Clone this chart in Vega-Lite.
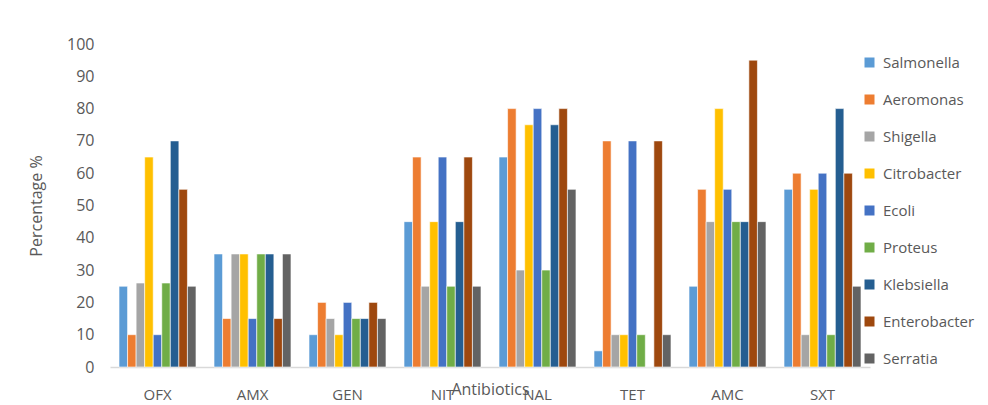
{
  "$schema": "https://vega.github.io/schema/vega-lite/v6.json",
  "autosize": "none",
  "width": 760,
  "height": 323,
  "padding": {"left": 110, "top": 44, "right": 118, "bottom": 38},
  "background": "white",
  "config": {
    "view": {"stroke": null},
    "font": "Open Sans",
    "axis": {"labelColor": "#595959", "titleColor": "#595959", "labelFont": "Open Sans", "titleFont": "Open Sans", "titleFontWeight": "normal"},
    "legend": {"labelFont": "Open Sans"}
  },
  "data": {
    "values": [
      {"antibiotic": "OFX", "bacteria": "Salmonella", "pct": 25},
      {"antibiotic": "OFX", "bacteria": "Aeromonas", "pct": 10},
      {"antibiotic": "OFX", "bacteria": "Shigella", "pct": 26},
      {"antibiotic": "OFX", "bacteria": "Citrobacter", "pct": 65},
      {"antibiotic": "OFX", "bacteria": "Ecoli", "pct": 10},
      {"antibiotic": "OFX", "bacteria": "Proteus", "pct": 26},
      {"antibiotic": "OFX", "bacteria": "Klebsiella", "pct": 70},
      {"antibiotic": "OFX", "bacteria": "Enterobacter", "pct": 55},
      {"antibiotic": "OFX", "bacteria": "Serratia", "pct": 25},
      {"antibiotic": "AMX", "bacteria": "Salmonella", "pct": 35},
      {"antibiotic": "AMX", "bacteria": "Aeromonas", "pct": 15},
      {"antibiotic": "AMX", "bacteria": "Shigella", "pct": 35},
      {"antibiotic": "AMX", "bacteria": "Citrobacter", "pct": 35},
      {"antibiotic": "AMX", "bacteria": "Ecoli", "pct": 15},
      {"antibiotic": "AMX", "bacteria": "Proteus", "pct": 35},
      {"antibiotic": "AMX", "bacteria": "Klebsiella", "pct": 35},
      {"antibiotic": "AMX", "bacteria": "Enterobacter", "pct": 15},
      {"antibiotic": "AMX", "bacteria": "Serratia", "pct": 35},
      {"antibiotic": "GEN", "bacteria": "Salmonella", "pct": 10},
      {"antibiotic": "GEN", "bacteria": "Aeromonas", "pct": 20},
      {"antibiotic": "GEN", "bacteria": "Shigella", "pct": 15},
      {"antibiotic": "GEN", "bacteria": "Citrobacter", "pct": 10},
      {"antibiotic": "GEN", "bacteria": "Ecoli", "pct": 20},
      {"antibiotic": "GEN", "bacteria": "Proteus", "pct": 15},
      {"antibiotic": "GEN", "bacteria": "Klebsiella", "pct": 15},
      {"antibiotic": "GEN", "bacteria": "Enterobacter", "pct": 20},
      {"antibiotic": "GEN", "bacteria": "Serratia", "pct": 15},
      {"antibiotic": "NIT", "bacteria": "Salmonella", "pct": 45},
      {"antibiotic": "NIT", "bacteria": "Aeromonas", "pct": 65},
      {"antibiotic": "NIT", "bacteria": "Shigella", "pct": 25},
      {"antibiotic": "NIT", "bacteria": "Citrobacter", "pct": 45},
      {"antibiotic": "NIT", "bacteria": "Ecoli", "pct": 65},
      {"antibiotic": "NIT", "bacteria": "Proteus", "pct": 25},
      {"antibiotic": "NIT", "bacteria": "Klebsiella", "pct": 45},
      {"antibiotic": "NIT", "bacteria": "Enterobacter", "pct": 65},
      {"antibiotic": "NIT", "bacteria": "Serratia", "pct": 25},
      {"antibiotic": "NAL", "bacteria": "Salmonella", "pct": 65},
      {"antibiotic": "NAL", "bacteria": "Aeromonas", "pct": 80},
      {"antibiotic": "NAL", "bacteria": "Shigella", "pct": 30},
      {"antibiotic": "NAL", "bacteria": "Citrobacter", "pct": 75},
      {"antibiotic": "NAL", "bacteria": "Ecoli", "pct": 80},
      {"antibiotic": "NAL", "bacteria": "Proteus", "pct": 30},
      {"antibiotic": "NAL", "bacteria": "Klebsiella", "pct": 75},
      {"antibiotic": "NAL", "bacteria": "Enterobacter", "pct": 80},
      {"antibiotic": "NAL", "bacteria": "Serratia", "pct": 55},
      {"antibiotic": "TET", "bacteria": "Salmonella", "pct": 5},
      {"antibiotic": "TET", "bacteria": "Aeromonas", "pct": 70},
      {"antibiotic": "TET", "bacteria": "Shigella", "pct": 10},
      {"antibiotic": "TET", "bacteria": "Citrobacter", "pct": 10},
      {"antibiotic": "TET", "bacteria": "Ecoli", "pct": 70},
      {"antibiotic": "TET", "bacteria": "Proteus", "pct": 10},
      {"antibiotic": "TET", "bacteria": "Klebsiella", "pct": 0},
      {"antibiotic": "TET", "bacteria": "Enterobacter", "pct": 70},
      {"antibiotic": "TET", "bacteria": "Serratia", "pct": 10},
      {"antibiotic": "AMC", "bacteria": "Salmonella", "pct": 25},
      {"antibiotic": "AMC", "bacteria": "Aeromonas", "pct": 55},
      {"antibiotic": "AMC", "bacteria": "Shigella", "pct": 45},
      {"antibiotic": "AMC", "bacteria": "Citrobacter", "pct": 80},
      {"antibiotic": "AMC", "bacteria": "Ecoli", "pct": 55},
      {"antibiotic": "AMC", "bacteria": "Proteus", "pct": 45},
      {"antibiotic": "AMC", "bacteria": "Klebsiella", "pct": 45},
      {"antibiotic": "AMC", "bacteria": "Enterobacter", "pct": 95},
      {"antibiotic": "AMC", "bacteria": "Serratia", "pct": 45},
      {"antibiotic": "SXT", "bacteria": "Salmonella", "pct": 55},
      {"antibiotic": "SXT", "bacteria": "Aeromonas", "pct": 60},
      {"antibiotic": "SXT", "bacteria": "Shigella", "pct": 10},
      {"antibiotic": "SXT", "bacteria": "Citrobacter", "pct": 55},
      {"antibiotic": "SXT", "bacteria": "Ecoli", "pct": 60},
      {"antibiotic": "SXT", "bacteria": "Proteus", "pct": 10},
      {"antibiotic": "SXT", "bacteria": "Klebsiella", "pct": 80},
      {"antibiotic": "SXT", "bacteria": "Enterobacter", "pct": 60},
      {"antibiotic": "SXT", "bacteria": "Serratia", "pct": 25}
    ]
  },
  "mark": {"type": "bar", "stroke": "white", "strokeWidth": 0.6},
  "encoding": {
    "x": {
      "field": "antibiotic",
      "type": "nominal",
      "sort": ["OFX", "AMX", "GEN", "NIT", "NAL", "TET", "AMC", "SXT"],
      "scale": {"paddingInner": 0.19, "paddingOuter": 0.095},
      "axis": {
        "title": "Antibiotics",
        "titleFontSize": 16,
        "titleY": 14,
        "labelAngle": 0,
        "labelFontSize": 15,
        "labelPadding": 20,
        "ticks": false,
        "domainColor": "#d9d9d9",
        "domainWidth": 1.5
      }
    },
    "xOffset": {
      "field": "bacteria",
      "type": "nominal",
      "sort": ["Salmonella", "Aeromonas", "Shigella", "Citrobacter", "Ecoli", "Proteus", "Klebsiella", "Enterobacter", "Serratia"]
    },
    "y": {
      "field": "pct",
      "type": "quantitative",
      "scale": {"domain": [0, 100], "nice": false},
      "axis": {
        "title": "Percentage %",
        "titleFontSize": 16,
        "titleX": -66,
        "values": [0, 10, 20, 30, 40, 50, 60, 70, 80, 90, 100],
        "labelFontSize": 16,
        "labelPadding": 16,
        "ticks": false,
        "domain": false,
        "grid": false
      }
    },
    "color": {
      "field": "bacteria",
      "type": "nominal",
      "sort": ["Salmonella", "Aeromonas", "Shigella", "Citrobacter", "Ecoli", "Proteus", "Klebsiella", "Enterobacter", "Serratia"],
      "scale": {
        "domain": ["Salmonella", "Aeromonas", "Shigella", "Citrobacter", "Ecoli", "Proteus", "Klebsiella", "Enterobacter", "Serratia"],
        "range": ["#5B9BD5", "#ED7D31", "#A5A5A5", "#FFC000", "#4472C4", "#70AD47", "#255E91", "#9E480E", "#636363"]
      },
      "legend": {
        "title": null,
        "orient": "none",
        "legendX": 752,
        "legendY": 11,
        "symbolType": "square",
        "symbolSize": 100,
        "symbolStrokeWidth": 0,
        "labelFontSize": 15,
        "labelColor": "#595959",
        "rowPadding": 21,
        "labelOffset": 6
      }
    }
  }
}
